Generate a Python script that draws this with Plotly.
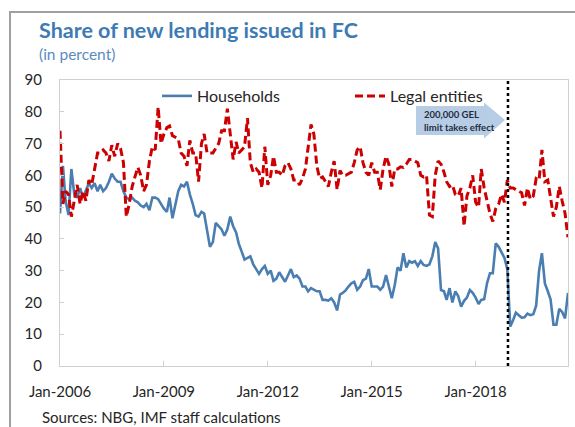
import pandas as pd
import plotly.graph_objects as go

# ---- data (monthly, Jan-2006 onward) ----
households = [
    48, 63, 52, 47.5, 62, 54, 53, 56, 53, 55, 57.5, 56,
    57.5, 55, 57, 55, 56, 58, 60.5, 59, 58, 58, 55, 53,
    52.5, 53, 52, 51.5, 50.5, 50, 51, 49, 53, 53, 52.5, 51,
    49.5, 48.5, 53, 46.5, 51, 55, 57, 56.5, 58, 54, 51, 47.5,
    47, 48.5, 48, 42.5, 37.5, 39, 45, 44, 43, 41, 43, 47,
    44, 42, 38.5, 36, 33.5, 34, 34.5, 32, 30.5, 29, 30.5, 31.5,
    29, 30, 26.8, 27.5, 29.5, 28, 26.5, 28.5, 30.5, 28, 28.5, 27.5,
    25, 25, 23.5, 24.5, 24, 23.5, 23.5, 20.8, 20.8, 20.6, 21.3, 20,
    17.5, 22.5, 23, 23.8, 25, 26, 26.5, 24, 25, 27, 27.5, 30.5,
    25, 25, 25, 24, 25, 28.6, 25, 21.3, 25.5, 31, 30, 35.5,
    31, 33, 32.5, 33, 31.5, 33, 31.8, 31.5, 32, 34.5, 39, 37,
    23.9, 23.5, 20.8, 24.5, 20, 23.5, 22, 18.7, 20.5, 21.5, 23.9, 23,
    21.5, 19.5, 20.8, 21, 26, 29.2, 29.2, 38.6, 37.5, 36, 34, 30.5,
    12.4, 14.5, 16.8, 16, 15.2, 15.3, 16.5, 16, 16.3, 19, 30, 35.5,
    26, 23.5, 21, 13, 13, 18, 17, 15, 23,
]
legal_entities = [
    74, 51, 55, 54, 47, 52, 57, 51, 55, 52, 58.5, 57,
    61.5, 67, 67, 68, 67, 64.5, 69.5, 66, 70, 68.5, 64, 47,
    51, 56.5, 59.5, 62.5, 60, 55, 57, 64.5, 69, 68, 81.5, 70,
    73, 75, 75.5, 72.5, 72, 71.5, 67, 66, 63, 71, 67, 67,
    58, 70, 73, 67, 67, 67, 68.5, 70, 74, 74, 81, 72,
    65, 70.5, 67, 68, 69, 78, 64, 61, 62, 61, 56, 69,
    57, 60, 66, 61, 61, 60, 63, 64, 62, 58.5, 58.5, 57,
    59, 62, 68, 76, 73, 63, 59, 59.5, 58, 56.5, 61, 64.5,
    55.5, 61.5, 60, 60, 60.5, 61, 64, 68, 69, 64, 61, 60,
    64, 61, 61, 55.5, 62, 66, 63.5, 56.5, 62, 62, 62.7, 62.5,
    63.5, 65, 65, 64.5, 64, 60, 59.5, 60, 47.5, 47, 60, 64.5,
    63.5, 61, 58, 56.5, 57, 54, 53.5, 56, 44, 53.5, 56, 60,
    51.5, 50, 62, 56, 52.5, 48, 45.5, 49.5, 51, 54, 51.5, 58.5,
    56, 56, 55.5, 55, 54.5, 50.5, 56, 52.5, 53.5, 59, 58.5, 68,
    58, 58.5, 53, 47, 50, 56.5, 52, 48, 40.5,
]
dates = pd.date_range("2006-01-01", periods=len(households), freq="MS")
tick_dates = ["2006-01-01", "2009-01-01", "2012-01-01", "2015-01-01", "2018-01-01"]
tick_labels = ["Jan-2006", "Jan-2009", "Jan-2012", "Jan-2015", "Jan-2018"]
limit_date = "2018-12-08"

# ---- layout geometry helpers (pixel -> paper) ----
W, H = 575, 427
PL, PR, PT, PB = 60, 568, 80, 366
def px(x):
    return (x - PL) / (PR - PL)
def py(y):
    return (PB - y) / (PB - PT)

BLUE = "#4A7EB1"
RED = "#CC0000"
TXT = "#262626"
FONT = "Lato"

fig = go.Figure()
fig.add_trace(go.Scatter(
    x=dates, y=households, mode="lines", name="Households", showlegend=True,
    line=dict(color=BLUE, width=2.6), legend="legend"))
fig.add_trace(go.Scatter(
    x=dates, y=legal_entities, mode="lines", name="Legal entities", showlegend=True,
    line=dict(color=RED, width=3, dash="8px,4px"), legend="legend2"))

shapes = []
# outer frame (left + top) as a path
frame = [(10, 430), (10, 12), (580, 12)]
shapes.append(dict(type="path", xref="paper", yref="paper",
                   path="M " + " L ".join(f"{px(a):.5f},{py(b):.5f}" for a, b in frame),
                   line=dict(color="#A0A0A0", width=2), fillcolor="rgba(0,0,0,0)"))
# vertical dotted line: limit takes effect
shapes.append(dict(type="line", xref="x", yref="paper",
                   x0=limit_date, x1=limit_date, y0=0, y1=1,
                   line=dict(color="black", width=2.5, dash="dot")))
# arrow callout
pts = [(416, 106), (484, 106), (484, 102.5), (505, 120), (484, 138.5),
       (484, 135), (416, 135)]
path = "M " + " L ".join(f"{px(a):.5f},{py(b):.5f}" for a, b in pts) + " Z"
shapes.append(dict(type="path", xref="paper", yref="paper", path=path,
                   fillcolor="#B7CCE5", line=dict(width=0), layer="below"))

annotations = [
    dict(text="<b>Share of new lending issued in FC</b>", x=px(37), y=py(30),
         xref="paper", yref="paper", xanchor="left", yanchor="middle",
         showarrow=False, font=dict(family=FONT, size=21.5, color="#3E7BB2")),
    dict(text="(in percent)", x=px(37), y=py(54),
         xref="paper", yref="paper", xanchor="left", yanchor="middle",
         showarrow=False, font=dict(family=FONT, size=15.5, color="#5B8BC0")),
    dict(text="Sources: NBG, IMF staff calculations", x=px(40), y=py(417),
         xref="paper", yref="paper", xanchor="left", yanchor="middle",
         showarrow=False, font=dict(family=FONT, size=15, color=TXT)),
    dict(text="<b>200,000 GEL</b>", x=px(422), y=py(114),
         xref="paper", yref="paper", xanchor="left", yanchor="middle",
         showarrow=False, font=dict(family=FONT, size=9.5, color="#1F2D3D")),
    dict(text="<b>limit takes effect</b>", x=px(422), y=py(127),
         xref="paper", yref="paper", xanchor="left", yanchor="middle",
         showarrow=False, font=dict(family=FONT, size=9.5, color="#1F2D3D")),
]

fig.update_layout(
    width=W, height=H, showlegend=True,
    margin=dict(l=PL, r=W - PR, t=PT, b=H - PB, pad=0),
    paper_bgcolor="white", plot_bgcolor="white",
    font=dict(family=FONT, size=15, color=TXT),
    shapes=shapes, annotations=annotations,
    legend=dict(x=px(157), y=py(96), xanchor="left", yanchor="middle",
                orientation="h", bgcolor="rgba(0,0,0,0)",
                font=dict(family=FONT, size=16, color=TXT)),
    legend2=dict(x=px(350), y=py(96), xanchor="left", yanchor="middle",
                 orientation="h", bgcolor="rgba(0,0,0,0)",
                 font=dict(family=FONT, size=16, color=TXT)),
    xaxis=dict(type="date", range=[dates[0], dates[-1]],
               tickvals=tick_dates, ticktext=tick_labels,
               ticks="inside", ticklen=5, tickcolor="#D0D0D0",
               showgrid=False, zeroline=False,
               showline=True, linecolor="#D0D0D0", linewidth=1, mirror=True,
               ticklabelstandoff=12,
               tickfont=dict(family=FONT, size=15, color=TXT)),
    yaxis=dict(range=[0, 90], dtick=10,
               ticks="inside", ticklen=4, tickcolor="#D0D0D0",
               showgrid=False, zeroline=False,
               showline=True, linecolor="#D0D0D0", linewidth=1, mirror=True,
               ticklabelstandoff=14,
               tickfont=dict(family=FONT, size=15, color=TXT)),
)

fig.write_html("out.html", config={"displayModeBar": False},
               post_script="document.body.style.margin='0';document.body.style.overflow='hidden';")
